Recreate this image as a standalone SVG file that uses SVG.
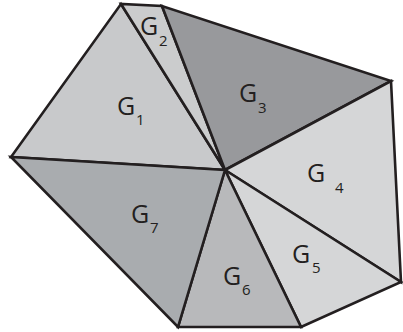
<svg xmlns="http://www.w3.org/2000/svg" width="403" height="332" viewBox="0 0 403 332">
<style>
.r{stroke:#231f20;stroke-width:2.6;stroke-linejoin:miter}
.g{font-family:"Open Sans","Liberation Sans",sans-serif;font-size:25px;fill:#231f20}
.s{font-size:15px}
</style>
<rect width="403" height="332" fill="#ffffff"/>
<g id="G1"><polygon class="r" fill="#c8c9cb" points="225,170 11,157 121,4"/><text class="g" x="117" y="115">G<tspan class="s" x="136" y="125">1</tspan></text></g>
<g id="G2"><polygon class="r" fill="#cbcccd" points="225,170 121,4 162,6"/><text class="g" x="140" y="35">G<tspan class="s" x="159" y="46">2</tspan></text></g>
<g id="G3"><polygon class="r" fill="#98999c" points="225,170 162,6 391,81"/><text class="g" x="239" y="102">G<tspan class="s" x="258" y="113">3</tspan></text></g>
<g id="G4"><polygon class="r" fill="#d5d6d7" points="225,170 391,81 401,282"/><text class="g" x="307" y="182">G<tspan class="s" x="335" y="193">4</tspan></text></g>
<g id="G5"><polygon class="r" fill="#d5d6d7" points="225,170 401,282 301,327"/><text class="g" x="292" y="263">G<tspan class="s" x="312" y="273">5</tspan></text></g>
<g id="G6"><polygon class="r" fill="#b8b9bb" points="225,170 301,327 178,327"/><text class="g" x="223" y="285">G<tspan class="s" x="242" y="295">6</tspan></text></g>
<g id="G7"><polygon class="r" fill="#a9acaf" points="225,170 178,327 11,157"/><text class="g" x="131" y="223">G<tspan class="s" x="150" y="233">7</tspan></text></g>
</svg>
